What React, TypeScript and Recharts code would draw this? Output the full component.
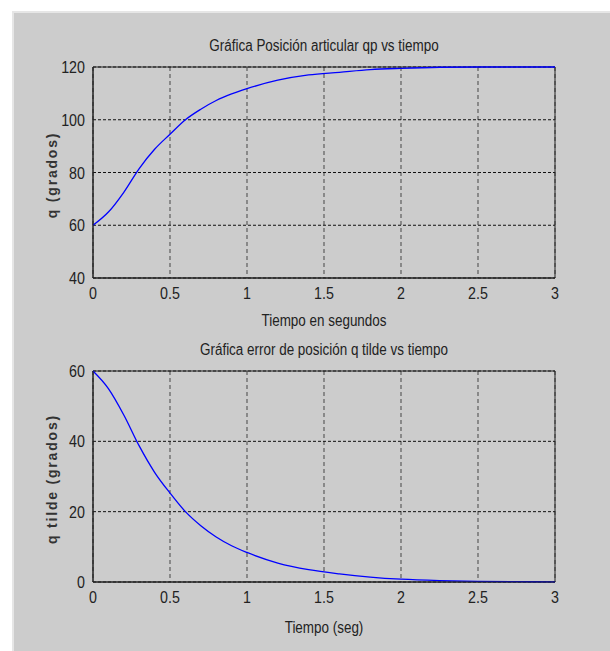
import { CartesianGrid, Line, LineChart, ReferenceArea, XAxis, YAxis } from "recharts";

const tiempo = [0, 0.1, 0.2, 0.3, 0.4, 0.5, 0.6, 0.7, 0.8, 0.9, 1.0, 1.2, 1.4, 1.6, 1.8, 2.0, 2.25, 2.5, 2.75, 3.0];
const posicion = [60, 65, 72.5, 81.5, 88.8, 94.5, 100, 104, 107.3, 109.8, 111.8, 115, 117, 118, 119, 119.5, 119.9, 120, 120, 120];
const errorPos = [60, 55, 47.5, 38.7, 31.2, 25.3, 20, 16, 12.8, 10.3, 8.4, 5.4, 3.5, 2.3, 1.4, 0.8, 0.4, 0.2, 0.1, 0.05];

const xTicks = [0, 0.5, 1, 1.5, 2, 2.5, 3];
const yTicksPos = [40, 60, 80, 100, 120];
const yTicksErr = [0, 20, 40, 60];

const rows = tiempo.map((t, i) => ({ t, q: posicion[i], e: errorPos[i] }));

const font = "'Liberation Sans', Arial, sans-serif";
const squeeze = 0.84;

// matlab-ish condensed tick labels
function XTick({ x, y, payload }: any) {
  return (
    <text
      transform={`translate(${x},${y + 6}) scale(${squeeze},1)`}
      textAnchor="middle"
      dy="0.75em"
      fill="#222"
      fontSize={17}
      fontFamily={font}
    >
      {payload.value}
    </text>
  );
}

function YTick({ x, y, payload }: any) {
  return (
    <text
      transform={`translate(${x - 6},${y}) scale(${squeeze},1)`}
      textAnchor="end"
      dy="0.36em"
      fill="#222"
      fontSize={17}
      fontFamily={font}
    >
      {payload.value}
    </text>
  );
}

function Panel({
  top,
  height,
  margin,
  dataKey,
  yDomain,
  yTicks,
}: {
  top: number;
  height: number;
  margin: { top: number; right: number; bottom: number; left: number };
  dataKey: string;
  yDomain: [number, number];
  yTicks: number[];
}) {
  return (
    <div style={{ position: "absolute", left: 0, top }}>
      <LineChart width={610} height={height} data={rows} margin={margin}>
        <CartesianGrid horizontal={false} stroke="#666" strokeWidth={1.3} strokeDasharray="4 3" />
        <CartesianGrid vertical={false} stroke="#111" strokeDasharray="3 2" />
        <XAxis
          dataKey="t"
          type="number"
          domain={[0, 3]}
          ticks={xTicks}
          tick={<XTick />}
          tickLine={false}
          tickSize={0}
          height={32}
          axisLine={{ stroke: "#222" }}
        />
        <YAxis
          type="number"
          domain={yDomain}
          ticks={yTicks}
          tick={<YTick />}
          tickLine={false}
          tickSize={0}
          width={40}
          axisLine={{ stroke: "#222" }}
        />
        <ReferenceArea x1={0} x2={3} y1={yDomain[0]} y2={yDomain[1]} fill="none" stroke="#222" strokeWidth={1} />
        <Line
          type="monotone"
          dataKey={dataKey}
          stroke="#0000ff"
          strokeWidth={1.3}
          dot={false}
          isAnimationActive={false}
        />
      </LineChart>
    </div>
  );
}

function Text({ x, y, children, rotate }: { x: number; y: number; children: string; rotate?: boolean }) {
  return (
    <div
      style={{
        position: "absolute",
        left: x,
        top: y,
        transform: rotate ? "translate(-50%, -50%) rotate(-90deg)" : `translate(-50%, -50%) scaleX(${squeeze})`,
        whiteSpace: "nowrap",
        fontFamily: font,
        fontSize: rotate ? 14 : 16,
        fontWeight: rotate ? "bold" : "normal",
        letterSpacing: rotate ? 1.8 : 0,
        color: rotate ? "#333" : "#222",
      }}
    >
      {children}
    </div>
  );
}

export default function App() {
  return (
    <div style={{ position: "absolute", left: 0, top: 0, width: 610, height: 651, background: "#fff", overflow: "hidden" }}>
      <div
        style={{
          position: "absolute",
          left: 12,
          top: 11,
          right: 0,
          bottom: 0,
          background: "#cccccc",
          borderTop: "2px solid #e6e6e6",
          borderLeft: "2px solid #e6e6e6",
        }}
      />
      <Panel
        top={0}
        height={310}
        margin={{ top: 67, right: 55, bottom: 0, left: 53 }}
        dataKey="q"
        yDomain={[40, 120]}
        yTicks={yTicksPos}
      />
      <Panel
        top={310}
        height={341}
        margin={{ top: 61, right: 55, bottom: 37, left: 53 }}
        dataKey="e"
        yDomain={[0, 60]}
        yTicks={yTicksErr}
      />
      <Text x={324} y={46}>Gráfica Posición articular qp vs tiempo</Text>
      <Text x={324} y={321}>Tiempo en segundos</Text>
      <Text x={324} y={350}>Gráfica error de posición q tilde vs tiempo</Text>
      <Text x={324} y={628}>Tiempo (seg)</Text>
      <Text x={52} y={175} rotate>q (grados)</Text>
      <Text x={52} y={479} rotate>q tilde (grados)</Text>
    </div>
  );
}
